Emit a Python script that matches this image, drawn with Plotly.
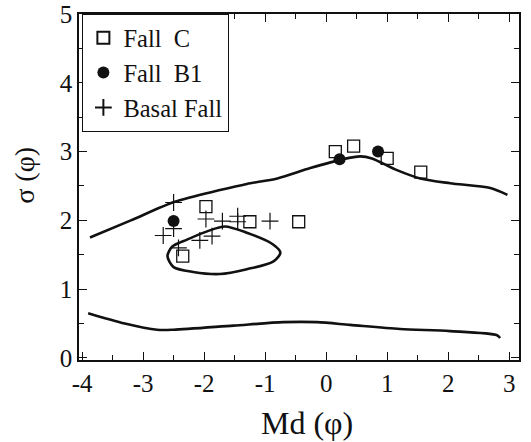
import plotly.graph_objects as go

# Data
fallc_x = [0.15, 0.45, 1.0, 1.55, -1.97, -1.25, -0.45, -2.35]
fallc_y = [3.0, 3.08, 2.9, 2.7, 2.2, 1.98, 1.98, 1.48]

fallb1_x = [-2.5, 0.22, 0.85]
fallb1_y = [1.99, 2.89, 3.0]

basal_x = [-2.5, -2.5, -2.67, -1.97, -1.7, -1.45, -1.45, -0.92, -2.07, -1.87, -2.42]
basal_y = [2.26, 1.88, 1.78, 2.02, 1.99, 2.06, 1.98, 1.99, 1.71, 1.77, 1.6]

upper_x = [-3.87, -3.2, -2.48, -1.74, -1.3, -0.8, -0.26, 0.28, 0.56, 0.75, 1.16, 1.54, 2.03, 2.69, 2.97]
upper_y = [1.75, 2.0, 2.27, 2.44, 2.53, 2.61, 2.76, 2.89, 2.93, 2.9, 2.73, 2.61, 2.54, 2.47, 2.37]

loop_x = [-1.66, -1.3, -0.87, -0.75, -0.87, -1.3, -1.74, -2.18, -2.5, -2.6, -2.52, -2.28, -1.95, -1.66]
loop_y = [1.91, 1.82, 1.65, 1.53, 1.4, 1.29, 1.22, 1.25, 1.32, 1.48, 1.62, 1.72, 1.84, 1.91]

lower_x = [-3.9, -3.3, -2.77, -2.5, -1.52, -0.7, -0.15, 0.39, 1.21, 2.03, 2.8, 2.85]
lower_y = [0.65, 0.5, 0.41, 0.41, 0.47, 0.52, 0.52, 0.48, 0.42, 0.39, 0.33, 0.29]

x_ticks = [-4, -3, -2, -1, 0, 1, 2, 3]
x_ticklabels = ["-4", "-3", "-2", "-1", "0", "1", "2", "3"]
y_ticks = [0, 1, 2, 3, 4, 5]

FONT = "Liberation Serif, Times New Roman, serif"
INK = "#111111"

fig = go.Figure()

for xs, ys in [(upper_x, upper_y), (loop_x, loop_y), (lower_x, lower_y)]:
    fig.add_trace(go.Scatter(x=xs, y=ys, mode="lines", showlegend=False,
                             line=dict(color=INK, width=2.6, shape="spline", smoothing=0.8),
                             hoverinfo="skip"))

fig.add_trace(go.Scatter(x=fallc_x, y=fallc_y, mode="markers", name="Fall  C",
                         marker=dict(symbol="square-open", size=12, color=INK,
                                     line=dict(width=1.3, color=INK))))
fig.add_trace(go.Scatter(x=fallb1_x, y=fallb1_y, mode="markers", name="Fall  B1",
                         marker=dict(symbol="circle", size=12, color=INK)))
fig.add_trace(go.Scatter(x=basal_x, y=basal_y, mode="markers", name="Basal Fall",
                         marker=dict(symbol="cross-thin-open", size=12, color=INK,
                                     line=dict(width=1.2, color=INK))))

axis_common = dict(
    showgrid=False, zeroline=False, showline=True, linecolor=INK, linewidth=1.5,
    mirror="ticks", ticks="inside", ticklen=8, tickwidth=1.3, tickcolor=INK,
    tickfont=dict(family=FONT, size=25, color=INK), automargin=False,
    ticklabeloverflow="allow",
    minor=dict(ticks="inside", dtick=0.5, ticklen=5, tickwidth=1.2, tickcolor=INK),
)

fig.update_xaxes(range=[-4.05, 3.16], tickvals=x_ticks, ticktext=x_ticklabels, **axis_common)
fig.update_yaxes(range=[-0.03, 5.0], tickvals=y_ticks, **axis_common)

fig.update_layout(
    width=531, height=442,
    margin=dict(l=79, r=12, t=14, b=82, autoexpand=False),
    paper_bgcolor="white", plot_bgcolor="white",
    font=dict(family=FONT, color=INK),
    legend=dict(x=0.007, y=1.0, xanchor="left", yanchor="top",
                bordercolor=INK, borderwidth=1.3, bgcolor="white",
                font=dict(family=FONT, size=24.5, color=INK),
                itemsizing="constant"),
    annotations=[
        dict(text="Md (φ)", xref="paper", yref="paper", x=0.518, y=-0.182,
             xanchor="center", yanchor="middle", showarrow=False,
             font=dict(family=FONT, size=32, color=INK)),
        dict(text="σ (φ)", xref="paper", yref="paper", x=-0.123, y=0.535,
             xanchor="center", yanchor="middle", showarrow=False, textangle=-90,
             font=dict(family=FONT, size=28, color=INK)),
    ],
)

fig.write_html("out.html", config={"displayModeBar": False},
               post_script="document.body.style.margin='0px';document.body.style.overflow='hidden';")
